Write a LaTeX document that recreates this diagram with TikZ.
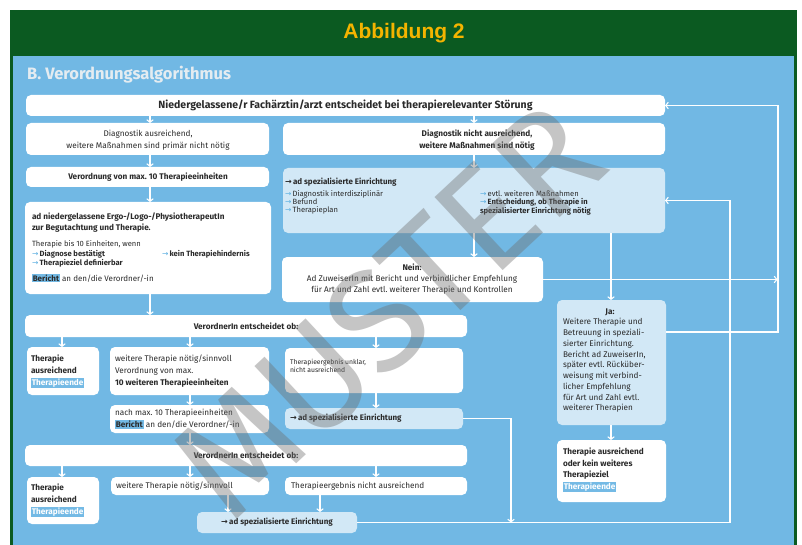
\documentclass[tikz,border=0pt]{standalone}
\usepackage{fontspec}
\setmainfont{Fira Sans}
\newfontfamily\hdfont{Liberation Sans}
\newfontfamily\arfont{DejaVu Sans}
\usetikzlibrary{fit,arrows.meta}
\definecolor{hgreen}{HTML}{0B5A21}
\definecolor{hgold}{HTML}{F4B400}
\definecolor{pblue}{HTML}{71B8E4}
\definecolor{lboxc}{HTML}{D2E8F6}
\definecolor{tdark}{HTML}{2A2A2A}
\definecolor{abl}{HTML}{5AAEE0}
\definecolor{hlb}{HTML}{74BAE5}
\definecolor{ttl}{HTML}{E4ECF1}
\definecolor{wmgray}{HTML}{6E6E6E}
\newcommand{\fsz}[2]{\fontsize{#1}{#2}\selectfont}
\newcommand{\la}{{\arfont\color{abl}→}\,}
\newcommand{\da}{{\arfont\bfseries →}\,}
\newcommand{\hlE}{{\setlength{\fboxsep}{0.8pt}\colorbox{hlb}{\color{white}\textbf{Therapieende}}}}
\newcommand{\hlB}[1]{{\setlength{\fboxsep}{0.8pt}\colorbox{hlb}{\textbf{#1}}}}
\begin{document}
\begin{tikzpicture}[x=1pt,y=-1pt,
  wbox/.style={fill=white, rounded corners=5pt, inner sep=0pt, outer sep=0pt},
  lbox/.style={fill=lboxc, rounded corners=5pt, inner sep=0pt, outer sep=0pt},
  txt/.style={inner sep=0pt, outer sep=0pt, text=tdark, font=\fsz{8.2}{10.5}},
  arr/.style={draw=white, line width=1.3pt, -{Straight Barb[length=2.6pt,width=6.5pt,line width=1.1pt]}},
]
\useasboundingbox (0,0) rectangle (802,545);
\fill[white] (0,0) rectangle (802,545);
\fill[hgreen] (10,10) rectangle (797,545);
\fill[pblue] (13,56) rectangle (794,545);
\node[inner sep=0pt, font=\hdfont\bfseries\fsz{21}{21}, text=hgold] (hdr) at (404,33) {Abbildung 2};
\node[inner sep=0pt, anchor=west, font=\bfseries\fsz{16.5}{17}, text=ttl] (ttl) at (27,75) {B. Verordnungsalgorithmus};

% boxes
\node[wbox, fit={(26,95)(665,116)}] (top) {};
\node[wbox, fit={(26,123)(269,155)}] (diag1) {};
\node[wbox, fit={(26,167)(269,187)}] (verord) {};
\node[wbox, fit={(283,123)(665,155)}] (diag2) {};
\node[lbox, fit={(283,168)(665,233)}] (spec) {};
\node[wbox, fit={(25,202)(271,294)}] (ergo) {};
\node[wbox, fit={(282,257)(543,302)}] (nein) {};
\node[lbox, fit={(557,300)(666,425)}] (ja) {};
\node[wbox, fit={(557,440)(666,502)}] (ende) {};
\node[wbox, fit={(25,315)(467,337)}] (vo1) {};
\node[wbox, fit={(27,347)(99,395)}] (aus1) {};
\node[wbox, fit={(110,347)(269,395)}] (weit1) {};
\node[wbox, fit={(110,405)(269,433)}] (nach) {};
\node[wbox, fit={(285,348)(463,393)}] (unkl) {};
\node[lbox, fit={(285,408)(463,429)}] (spec2) {};
\node[wbox, fit={(25,445)(467,466)}] (vo2) {};
\node[wbox, fit={(27,477)(99,524)}] (aus2) {};
\node[wbox, fit={(111,477)(269,495)}] (weit2) {};
\node[wbox, fit={(285,477)(467,495)}] (nicht) {};
\node[lbox, fit={(197,512)(357,533)}] (spec3) {};

% texts
\node[txt, font=\bfseries\fsz{10.5}{12}] (topt) at (top) {Niedergelassene/r Fachärztin/arzt entscheidet bei therapierelevanter Störung};
\node[txt, align=center, font=\fsz{8.2}{12.5}] (diag1t) at (148,140) {Diagnostik ausreichend,\\weitere Maßnahmen sind primär nicht nötig};
\node[txt, font=\bfseries\fsz{8.2}{10}] (verordt) at (148,177) {Verordnung von max.\ 10 Therapieeinheiten};
\node[txt, align=center, font=\bfseries\fsz{8.2}{12.5}] (diag2t) at (477,140) {Diagnostik nicht ausreichend,\\weitere Maßnahmen sind nötig};
\node[txt, anchor=west, font=\bfseries\fsz{8}{10}] (spect) at (285,182) {\da ad spezialisierte Einrichtung};
\node[txt, anchor=north west, align=left, font=\fsz{7.6}{7.8}] (specl) at (285,191) {\la Diagnostik interdisziplinär\\\la Befund\\\la Therapieplan};
\node[txt, anchor=north west, align=left, font=\fsz{7.6}{7.8}] (specr) at (480,191) {\la evtl.\ weiteren Maßnahmen\\\la \textbf{Entscheidung, ob Therapie in}\\\textbf{spezialisierter Einrichtung nötig}};

\node[txt, anchor=west, font=\bfseries\fsz{8.2}{10}] (e1) at (32,217) {ad niedergelassene Ergo-/Logo-/PhysiotherapeutIn};
\node[txt, anchor=west, font=\bfseries\fsz{8.2}{10}] (e2) at (32,228) {zur Begutachtung und Therapie.};
\node[txt, anchor=west, font=\fsz{7.6}{9}] (e3) at (32,244) {Therapie bis 10 Einheiten, wenn};
\node[txt, anchor=west, font=\fsz{7.6}{9}] (e4) at (32,254) {\la\textbf{Diagnose bestätigt}};
\node[txt, anchor=west, font=\fsz{7.6}{9}] (e5) at (162,254) {\la\textbf{kein Therapiehindernis}};
\node[txt, anchor=west, font=\fsz{7.6}{9}] (e6) at (32,263) {\la\textbf{Therapieziel definierbar}};
\node[txt, anchor=west, font=\fsz{8}{9}] (e7) at (32,278) {\hlB{Bericht} an den/die Verordner/-in};

\node[txt, align=center, font=\fsz{8.2}{10.6}] (neint) at (412,279) {\textbf{Nein:}\\Ad ZuweiserIn mit Bericht und verbindlicher Empfehlung\\für Art und Zahl evtl.\ weiterer Therapie und Kontrollen};

\node[txt, font=\bfseries\fsz{8.2}{10}] (vo1t) at (vo1) {VerordnerIn entscheidet ob:};
\node[txt, anchor=west, align=left, font=\bfseries\fsz{8.2}{12}] (aus1t) at (31,371) {Therapie\\ausreichend\\\hlE};
\node[txt, anchor=west, align=left, font=\fsz{8.2}{12.3}] (weit1t) at (115,371) {weitere Therapie nötig/sinnvoll\\Verordnung von max.\\\textbf{10 weiteren Therapieeinheiten}};
\node[txt, anchor=west, align=left, font=\fsz{8.2}{12}] (nacht) at (115,419) {nach max.\ 10 Therapieeinheiten\\\hlB{Bericht} an den/die Verordner/-in};
\node[txt, anchor=west, align=left, font=\fsz{6.8}{8}] (unklt) at (290,366) {Therapieergebnis unklar,\\nicht ausreichend};
\node[txt, anchor=west, font=\bfseries\fsz{8}{10}] (spec2t) at (290,418) {\da ad spezialisierte Einrichtung};

\node[txt, font=\bfseries\fsz{8.2}{10}] (vo2t) at (vo2) {VerordnerIn entscheidet ob:};
\node[txt, anchor=west, align=left, font=\bfseries\fsz{8.2}{12}] (aus2t) at (31,500) {Therapie\\ausreichend\\\hlE};
\node[txt, anchor=west, font=\fsz{8.2}{10}] (weit2t) at (116,486) {weitere Therapie nötig/sinnvoll};
\node[txt, anchor=west, font=\fsz{8.2}{10}] (nichtt) at (291,486) {Therapieergebnis nicht ausreichend};
\node[txt, font=\bfseries\fsz{8}{10}] (spec3t) at (spec3) {\da ad spezialisierte Einrichtung};

\node[txt, font=\bfseries\fsz{8.2}{10}] (jah) at (610,312) {Ja:};
\node[txt, anchor=north west, align=left, font=\fsz{8.2}{10.75}] (jat) at (563,318.5) {Weitere Therapie und\\Betreuung in speziali-\\sierter Einrichtung.\\Bericht ad ZuweiserIn,\\später evtl.\ Rücküber-\\weisung mit verbind-\\licher Empfehlung\\für Art und Zahl evtl.\\weiterer Therapien};
\node[txt, anchor=north west, align=left, font=\bfseries\fsz{8.2}{11.5}] (endet) at (563,448) {Therapie ausreichend\\oder kein weiteres\\Therapieziel\\\hlE};

% column coordinates
\coordinate (c62) at (62,0);
\coordinate (c150) at (150,0);
\coordinate (c190) at (190,0);
\coordinate (c228) at (228,0);
\coordinate (c320) at (320,0);
\coordinate (c376) at (376,0);
\coordinate (c474) at (474,0);
\coordinate (c511) at (511,0);
\coordinate (c611) at (611,0);
\coordinate (c730) at (730,0);
\coordinate (c778) at (778,0);
\coordinate (jy) at (0,332);

% connectors
\draw[arr] (top.south -| c150) -- (diag1.north -| c150);
\draw[arr] (diag1.south -| c150) -- (verord.north -| c150);
\draw[arr] (verord.south -| c150) -- (ergo.north -| c150);
\draw[arr] (ergo.south -| c150) -- (vo1.north -| c150);
\draw[arr] (vo1.south -| c62) -- (aus1.north -| c62);
\draw[arr] (vo1.south -| c190) -- (weit1.north -| c190);
\draw[arr] (vo1.south -| c376) -- (unkl.north -| c376);
\draw[arr] (weit1.south -| c190) -- (nach.north -| c190);
\draw[arr] (unkl.south -| c376) -- (spec2.north -| c376);
\draw[arr] (nach.south -| c190) -- (vo2.north -| c190);
\draw[arr] (vo2.south -| c62) -- (aus2.north -| c62);
\draw[arr] (vo2.south -| c190) -- (weit2.north -| c190);
\draw[arr] (vo2.south -| c376) -- (nicht.north -| c376);
\draw[arr] (weit2.south -| c228) -- (spec3.north -| c228);
\draw[arr] (nicht.south -| c320) -- (spec3.north -| c320);
\draw[arr] (top.south -| c474) -- (diag2.north -| c474);
\draw[arr] (diag2.south -| c474) -- (spec.north -| c474);
\draw[arr] (spec.south -| c474) -- (nein.north -| c474);
\draw[arr] (spec.south -| c611) -- (ja.north -| c611);
\draw[arr] (ja.south -| c611) -- (ende.north -| c611);
\draw[arr, shorten >=0.5pt] (nein.east) -- (nein.east -| c778);
\draw[arr] (ja.east |- jy) -- (c778 |- jy) -- (c778 |- top.east) -- (top.east);
\draw[arr] (spec2.east) -- (spec2.east -| c511) -- (c511 |- spec3.east);
\draw[arr] (spec3.east) -- (spec3.east -| c730) -- (c730 |- spec.east) -- (spec.east);

% watermark
\node[inner sep=0pt, font=\fsz{145}{145}, text=wmgray, text opacity=0.4, rotate=43] (wm) at (388,310) {MUSTER};
\end{tikzpicture}
\end{document}
